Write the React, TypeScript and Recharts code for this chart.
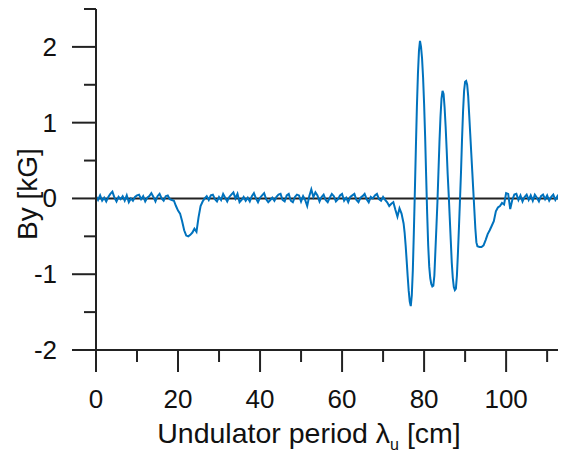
import React from 'react';
import { LineChart, Line, XAxis, YAxis, ReferenceLine, Label } from 'recharts';

// By [kG] vs undulator period [cm]; each segment is sampled on a regular grid
const seg1Start = 0;
const seg1Step = 0.5;
const seg1Values = [
  0.03, -0.02, 0.04, -0.03, 0.01, -0.04, 0.02, 0.06, 0.09, 0.01,
  -0.04, 0.02, -0.01, 0.03, -0.03, 0.04, -0.05, 0.0, -0.03, 0.02,
  0.04, 0.05, -0.01, 0.03, -0.04, 0.01, 0.03, 0.07, 0.02, -0.04,
  0.03, 0.06, 0.0, -0.03, 0.03, 0.04, -0.01, -0.02,
  -0.03, -0.1, -0.16, -0.2, -0.3, -0.42, -0.49, -0.5, -0.48, -0.45,
  -0.4, -0.44, -0.25, -0.1, -0.04, 0.0, 0.03,
];

const seg2Start = 27.5;
const seg2Step = 0.5;
const seg2Values = [
  -0.02, 0.04, 0.05, -0.01, -0.04, 0.02, -0.02, 0.06, 0.01, -0.04,
  0.02, 0.05, 0.08, 0.0, 0.06, -0.05, -0.02, 0.02, -0.03, 0.01,
  -0.04, 0.03, 0.07, 0.0, -0.05, 0.01, 0.04, 0.07, -0.01, -0.05,
  -0.02, 0.01, -0.03, 0.02, 0.05, 0.06, -0.02, -0.04, 0.04, 0.06,
  -0.03, -0.05, 0.02, 0.05, 0.04, -0.04, 0.03, -0.02, -0.1, 0.03,
  0.12, 0.02, 0.08, 0.04, -0.04, 0.02, 0.05, -0.02, -0.05, 0.01,
  0.06, 0.03, -0.04, -0.01, 0.04, 0.06, -0.03, 0.01, -0.05, 0.02,
  0.04, 0.06, -0.02, -0.05, 0.01, 0.03, 0.06, -0.01, -0.05, 0.02,
  0.0, 0.04, 0.06, -0.01, -0.03, 0.02,
  -0.02, -0.05, -0.1, -0.07, -0.05, -0.15, -0.24, -0.13, -0.2,
];

const seg3Start = 75;
const seg3Step = 0.25;
const seg3Values = [
  -0.33, -0.45, -0.62, -0.82, -1.03, -1.22, -1.36, -1.42,
  -1.28, -0.95, -0.45, 0.1, 0.68, 1.22, 1.65, 1.95,
  2.08, 2.0, 1.85, 1.6, 1.25, 0.82, 0.3, -0.2,
  -0.62, -0.9, -1.05, -1.13, -1.16, -1.15, -1.02, -0.7,
  -0.38, -0.05, 0.35, 0.75, 1.08, 1.32, 1.42, 1.38,
  1.2, 0.95, 0.65, 0.32, 0.05, -0.25, -0.55, -0.85,
  -1.05, -1.17, -1.21, -1.19, -1.02, -0.72, -0.38, -0.02,
  0.35, 0.78, 1.15, 1.42, 1.54, 1.55, 1.5, 1.35,
  1.1, 0.85, 0.6, 0.35, 0.1, -0.15, -0.4, -0.58,
  -0.63,
];

const seg4Start = 93.5;
const seg4Step = 0.5;
const seg4Values = [
  -0.64, -0.64, -0.62, -0.55, -0.47, -0.42, -0.36, -0.3, -0.17, -0.12,
  -0.1, -0.06, -0.08, 0.07, 0.06, -0.14, -0.02, 0.05, 0.06, -0.02,
  0.04, -0.04, 0.02, 0.05, -0.02, 0.04, -0.03, 0.05, 0.01, -0.04,
  0.03, 0.05, -0.01, 0.04, -0.03, 0.02, 0.05, -0.02, 0.03, -0.03,
  0.02,
];

const xTicks = [0, 10, 20, 30, 40, 50, 60, 70, 80, 90, 100, 110];
const yTicks = [-2, -1.5, -1, -0.5, 0, 0.5, 1, 1.5, 2, 2.5];

const segments = [
  { start: seg1Start, step: seg1Step, values: seg1Values },
  { start: seg2Start, step: seg2Step, values: seg2Values },
  { start: seg3Start, step: seg3Step, values: seg3Values },
  { start: seg4Start, step: seg4Step, values: seg4Values },
];

const data = segments.flatMap((s) =>
  s.values.map((v, i) => ({ x: +(s.start + i * s.step).toFixed(2), by: v }))
);

const FONT = '"Liberation Sans", Arial, sans-serif';
const AXIS = '#222';
const TEXT = '#111';

const XTick = (props: any) => {
  const { x, y, payload } = props;
  const v = payload.value;
  const major = v % 20 === 0;
  return (
    <g>
      <line x1={x} x2={x} y1={y} y2={y + (major ? 22 : 12)} stroke={AXIS} strokeWidth={2} />
      {major && (
        <text x={x} y={y + 58} textAnchor="middle" fontSize={26} fill={TEXT} fontFamily={FONT}>
          {v}
        </text>
      )}
    </g>
  );
};

const YTick = (props: any) => {
  const { x, y, payload } = props;
  const v = payload.value;
  const major = Number.isInteger(v);
  return (
    <g>
      <line x1={x - (major ? 24 : 12)} x2={x} y1={y} y2={y} stroke={AXIS} strokeWidth={2} />
      {major && (
        <text x={x - 39} y={y + 9} textAnchor="end" fontSize={26} fill={TEXT} fontFamily={FONT}>
          {v}
        </text>
      )}
    </g>
  );
};

const XLabel = () => (
  <text x={301} y={435} textAnchor="middle" fontSize={28.5} fill={TEXT} fontFamily={FONT}>
    Undulator period λ
    <tspan fontSize={16} dy={7}>u</tspan>
    <tspan dy={-7}> [cm]</tspan>
  </text>
);

const YLabel = () => (
  <text
    x={29}
    y={186}
    transform="rotate(-90 29 186)"
    textAnchor="middle"
    fontSize={28}
    fill={TEXT}
    fontFamily={FONT}
  >
    By [kG]
  </text>
);

export default function App() {
  return (
    <LineChart
      width={558}
      height={444}
      data={data}
      margin={{ top: 1, right: 0, bottom: 0, left: 0 }}
    >
      <XAxis
        dataKey="x"
        type="number"
        domain={[0, 114.6]}
        ticks={xTicks}
        tick={<XTick />}
        tickLine={false}
        tickSize={0}
        tickMargin={0}
        axisLine={{ stroke: AXIS, strokeWidth: 2 }}
        height={102}
        interval={0}
      >
        <Label content={<XLabel />} />
      </XAxis>
      <YAxis
        type="number"
        domain={[-2, 2.5]}
        ticks={yTicks}
        tick={<YTick />}
        tickLine={false}
        tickSize={0}
        tickMargin={0}
        axisLine={{ stroke: AXIS, strokeWidth: 2 }}
        width={88}
        interval={0}
      >
        <Label content={<YLabel />} />
      </YAxis>
      <ReferenceLine y={0} stroke={AXIS} strokeWidth={2} />
      <Line
        type="linear"
        dataKey="by"
        stroke="#0072BD"
        strokeWidth={2}
        dot={false}
        isAnimationActive={false}
      />
    </LineChart>
  );
}
